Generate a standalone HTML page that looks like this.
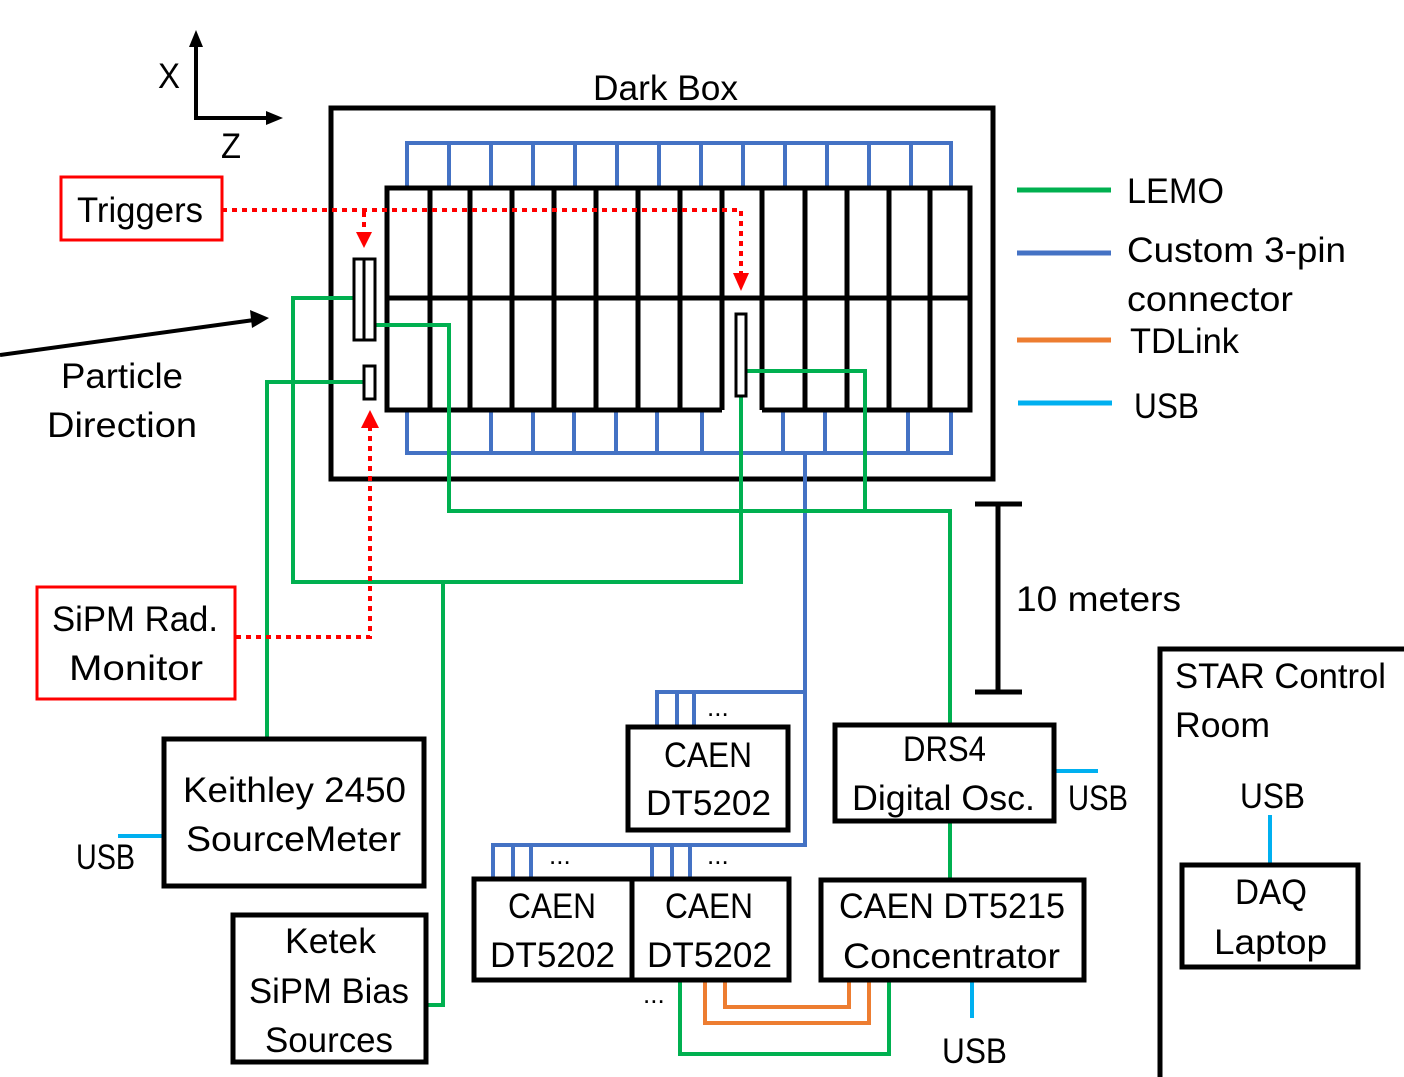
<!DOCTYPE html>
<html><head><meta charset="utf-8"><style>
html,body{margin:0;padding:0;background:#fff;}
svg{display:block;}
text{font-family:"Liberation Sans",sans-serif;font-size:35px;fill:#000;}
</style></head><body>
<svg width="1404" height="1077" viewBox="0 0 1404 1077" xmlns="http://www.w3.org/2000/svg">
<!-- axes -->
<g stroke="#000" stroke-width="4" fill="none">
<polyline points="196,45 196,118 270,118"/>
</g>
<path d="M196,30 L189,47 L203,47 z" fill="#000"/>
<path d="M283,118 L266,111 L266,125 z" fill="#000"/>
<text x="158" y="88" textLength="22" lengthAdjust="spacingAndGlyphs">X</text>
<text x="221" y="158" textLength="20" lengthAdjust="spacingAndGlyphs">Z</text>
<!-- particle arrow -->
<line x1="0" y1="355" x2="254" y2="320" stroke="#000" stroke-width="4"/>
<path d="M269,318 L250,310 L252,328 z" fill="#000"/>
<text x="61" y="388" textLength="122" lengthAdjust="spacingAndGlyphs">Particle</text>
<text x="47" y="437" textLength="150" lengthAdjust="spacingAndGlyphs">Direction</text>

<!-- Dark box -->
<rect x="331" y="108" width="662" height="371" fill="none" stroke="#000" stroke-width="5"/>
<text x="593" y="100" textLength="145" lengthAdjust="spacingAndGlyphs">Dark Box</text>

<!-- blue connectors -->
<g stroke="#4472c4" stroke-width="4" fill="none">
<polyline points="407,188 407,143 951,143 951,188"/>
<line x1="449" y1="143" x2="449" y2="188"/><line x1="491" y1="143" x2="491" y2="188"/><line x1="533" y1="143" x2="533" y2="188"/><line x1="575" y1="143" x2="575" y2="188"/><line x1="617" y1="143" x2="617" y2="188"/><line x1="659" y1="143" x2="659" y2="188"/><line x1="701" y1="143" x2="701" y2="188"/><line x1="743" y1="143" x2="743" y2="188"/><line x1="785" y1="143" x2="785" y2="188"/><line x1="827" y1="143" x2="827" y2="188"/><line x1="869" y1="143" x2="869" y2="188"/><line x1="911" y1="143" x2="911" y2="188"/>
<polyline points="407,410 407,453 951,453 951,410"/>
<line x1="491" y1="410" x2="491" y2="453"/><line x1="533" y1="410" x2="533" y2="453"/><line x1="574" y1="410" x2="574" y2="453"/><line x1="616" y1="410" x2="616" y2="453"/><line x1="657" y1="410" x2="657" y2="453"/><line x1="702" y1="410" x2="702" y2="453"/><line x1="783" y1="410" x2="783" y2="453"/><line x1="825" y1="410" x2="825" y2="453"/><line x1="908" y1="410" x2="908" y2="453"/>
<polyline points="805,453 805,845 493,845 493,877"/>
<polyline points="805,692 657,692 657,725"/>
<line x1="677" y1="692" x2="677" y2="725"/><line x1="694" y1="692" x2="694" y2="725"/>
<line x1="513" y1="845" x2="513" y2="877"/><line x1="531" y1="845" x2="531" y2="877"/>
<line x1="652" y1="845" x2="652" y2="877"/><line x1="672" y1="845" x2="672" y2="877"/><line x1="690" y1="845" x2="690" y2="877"/>
</g>

<!-- detector grid -->
<g stroke="#000" stroke-width="5" fill="none">
<polyline points="722,410 387,410 387,188 970,188 970,410 762,410"/>
<line x1="387" y1="298" x2="970" y2="298"/>
<line x1="430" y1="188" x2="430" y2="410"/><line x1="470" y1="188" x2="470" y2="410"/><line x1="512" y1="188" x2="512" y2="410"/><line x1="554" y1="188" x2="554" y2="410"/><line x1="596" y1="188" x2="596" y2="410"/><line x1="638" y1="188" x2="638" y2="410"/><line x1="680" y1="188" x2="680" y2="410"/><line x1="722" y1="188" x2="722" y2="410"/>
<line x1="762" y1="188" x2="762" y2="410"/><line x1="805" y1="188" x2="805" y2="410"/><line x1="847" y1="188" x2="847" y2="410"/><line x1="889" y1="188" x2="889" y2="410"/><line x1="930" y1="188" x2="930" y2="410"/>
</g>

<!-- green LEMO -->
<g stroke="#00b050" stroke-width="4" fill="none">
<polyline points="355,298 293,298 293,582 741,582 741,397"/>
<polyline points="376,325 449,325 449,511 950,511 950,723"/>
<polyline points="746,371 865,371 865,511"/>
<polyline points="363,382 267,382 267,737"/>
<polyline points="443,582 443,1005 428,1005"/>
<line x1="950" y1="822" x2="950" y2="878"/>
<polyline points="680,981 680,1054 889,1054 889,981"/>
</g>
<!-- orange -->
<g stroke="#ed7d31" stroke-width="4" fill="none">
<polyline points="725,981 725,1007 849,1007 849,981"/>
<polyline points="705,981 705,1023 869,1023 869,981"/>
</g>
<!-- USB cyan -->
<g stroke="#00b0f0" stroke-width="4" fill="none">
<line x1="118" y1="836" x2="163" y2="836"/>
<line x1="1055" y1="771" x2="1098" y2="771"/>
<line x1="972" y1="981" x2="972" y2="1018"/>
<line x1="1270" y1="815" x2="1270" y2="863"/>
</g>

<!-- modules -->
<rect x="354" y="259" width="21" height="81" fill="#fff" stroke="#000" stroke-width="3"/>
<line x1="364" y1="259" x2="364" y2="340" stroke="#000" stroke-width="3"/>
<rect x="364" y="366" width="11" height="33" fill="#fff" stroke="#000" stroke-width="3"/>
<rect x="736" y="314" width="10" height="82" fill="#fff" stroke="#000" stroke-width="3"/>

<!-- red dotted -->
<g stroke="#ff0000" stroke-width="4" fill="none" stroke-dasharray="5,5">
<polyline points="222,210 741,210 741,278"/>
<line x1="364" y1="212" x2="364" y2="233"/>
<polyline points="236,637 370,637 370,428"/>
</g>
<path d="M356,232 L372,232 L364,248 z" fill="#ff0000"/>
<path d="M733,273 L749,273 L741,291 z" fill="#ff0000"/>
<path d="M361,428 L379,428 L370,410 z" fill="#ff0000"/>

<!-- red boxes -->
<rect x="61" y="177" width="161" height="63" fill="none" stroke="#ff0000" stroke-width="3"/>
<text x="77" y="222" textLength="126" lengthAdjust="spacingAndGlyphs">Triggers</text>
<rect x="37" y="587" width="198" height="112" fill="none" stroke="#ff0000" stroke-width="3"/>
<text x="52" y="631" textLength="166" lengthAdjust="spacingAndGlyphs">SiPM Rad.</text>
<text x="69" y="680" textLength="134" lengthAdjust="spacingAndGlyphs">Monitor</text>

<!-- black boxes -->
<g stroke="#000" stroke-width="5" fill="none">
<rect x="164" y="739" width="260" height="147"/>
<rect x="233" y="915" width="193" height="147"/>
<rect x="628" y="727" width="160" height="103"/>
<rect x="474" y="879" width="158" height="101"/>
<rect x="632" y="879" width="157" height="101"/>
<rect x="821" y="880" width="263" height="100"/>
<rect x="835" y="725" width="219" height="96"/>
<rect x="1182" y="865" width="176" height="102"/>
<polyline points="1160,1077 1160,649 1404,649"/>
<line x1="998" y1="503" x2="998" y2="692"/>
<line x1="975" y1="504" x2="1022" y2="504"/>
<line x1="975" y1="692" x2="1022" y2="692"/>
</g>
<text x="183" y="802" textLength="223" lengthAdjust="spacingAndGlyphs">Keithley 2450</text>
<text x="186" y="851" textLength="215" lengthAdjust="spacingAndGlyphs">SourceMeter</text>
<text x="285" y="953" textLength="91" lengthAdjust="spacingAndGlyphs">Ketek</text>
<text x="249" y="1003" textLength="160" lengthAdjust="spacingAndGlyphs">SiPM Bias</text>
<text x="265" y="1052" textLength="128" lengthAdjust="spacingAndGlyphs">Sources</text>
<text x="664" y="767" textLength="88" lengthAdjust="spacingAndGlyphs">CAEN</text>
<text x="646" y="815" textLength="125" lengthAdjust="spacingAndGlyphs">DT5202</text>
<text x="508" y="918" textLength="88" lengthAdjust="spacingAndGlyphs">CAEN</text>
<text x="490" y="967" textLength="125" lengthAdjust="spacingAndGlyphs">DT5202</text>
<text x="665" y="918" textLength="88" lengthAdjust="spacingAndGlyphs">CAEN</text>
<text x="647" y="967" textLength="125" lengthAdjust="spacingAndGlyphs">DT5202</text>
<text x="903" y="761" textLength="83" lengthAdjust="spacingAndGlyphs">DRS4</text>
<text x="852" y="810" textLength="183" lengthAdjust="spacingAndGlyphs">Digital Osc.</text>
<text x="839" y="918" textLength="226" lengthAdjust="spacingAndGlyphs">CAEN DT5215</text>
<text x="843" y="968" textLength="217" lengthAdjust="spacingAndGlyphs">Concentrator</text>
<text x="1235" y="904" textLength="72" lengthAdjust="spacingAndGlyphs">DAQ</text>
<text x="1214" y="954" textLength="113" lengthAdjust="spacingAndGlyphs">Laptop</text>
<text x="1175" y="688" textLength="211" lengthAdjust="spacingAndGlyphs">STAR Control</text>
<text x="1175" y="737" textLength="95" lengthAdjust="spacingAndGlyphs">Room</text>
<text x="1240" y="808" textLength="65" lengthAdjust="spacingAndGlyphs">USB</text>
<text x="76" y="869" textLength="59" lengthAdjust="spacingAndGlyphs">USB</text>
<text x="1068" y="810" textLength="60" lengthAdjust="spacingAndGlyphs">USB</text>
<text x="942" y="1063" textLength="65" lengthAdjust="spacingAndGlyphs">USB</text>
<text x="1016" y="611" textLength="165" lengthAdjust="spacingAndGlyphs">10 meters</text>
<!-- dots -->
<text x="707" y="716" style="font-size:26px">...</text>
<text x="549" y="864" style="font-size:26px">...</text>
<text x="707" y="864" style="font-size:26px">...</text>
<text x="643" y="1003" style="font-size:26px">...</text>

<!-- legend -->
<g stroke-width="5">
<line x1="1017" y1="190" x2="1111" y2="190" stroke="#00b050"/>
<line x1="1017" y1="253" x2="1111" y2="253" stroke="#4472c4"/>
<line x1="1017" y1="340" x2="1111" y2="340" stroke="#ed7d31"/>
<line x1="1018" y1="403" x2="1112" y2="403" stroke="#00b0f0"/>
</g>
<text x="1127" y="203" textLength="97" lengthAdjust="spacingAndGlyphs">LEMO</text>
<text x="1127" y="262" textLength="219" lengthAdjust="spacingAndGlyphs">Custom 3-pin</text>
<text x="1127" y="311" textLength="166" lengthAdjust="spacingAndGlyphs">connector</text>
<text x="1130" y="353" textLength="109" lengthAdjust="spacingAndGlyphs">TDLink</text>
<text x="1134" y="418" textLength="65" lengthAdjust="spacingAndGlyphs">USB</text>
</svg>
</body></html>
